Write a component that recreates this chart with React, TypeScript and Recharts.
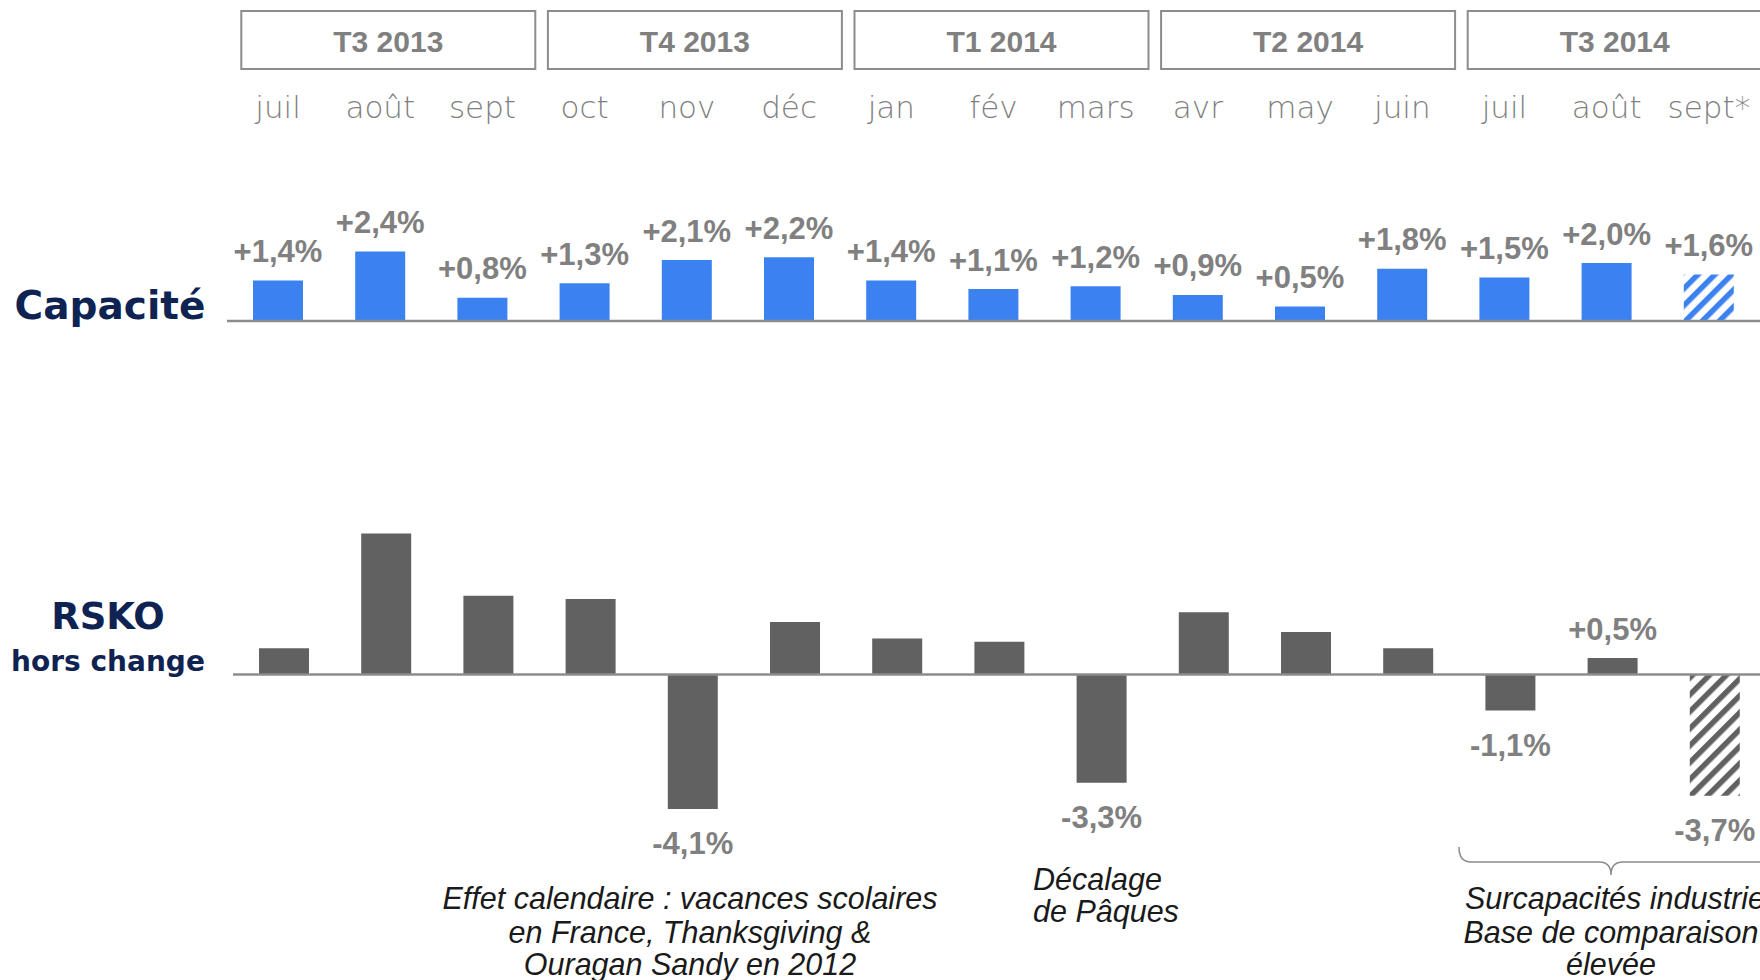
import React from 'react';
import { BarChart, Bar, XAxis, YAxis, Cell, LabelList, ReferenceLine } from 'recharts';

// Monthly values
const months = ['juil', 'août', 'sept', 'oct', 'nov', 'déc', 'jan', 'fév', 'mars', 'avr', 'may', 'juin', 'juil', 'août', 'sept*'];
const quarters = ['T3 2013', 'T4 2013', 'T1 2014', 'T2 2014', 'T3 2014'];
const capacity = [1.4, 2.4, 0.8, 1.3, 2.1, 2.2, 1.4, 1.1, 1.2, 0.9, 0.5, 1.8, 1.5, 2.0, 1.6];
const rsko = [0.8, 4.3, 2.4, 2.3, -4.1, 1.6, 1.1, 1.0, -3.3, 1.9, 1.3, 0.8, -1.1, 0.5, -3.7];
const rskoLabelled = [4, 8, 12, 13, 14];
const estimated = [14];

const BLUE = '#3b82f0';
const BAR_GRAY = '#616161';
const LABEL_GRAY = '#808080';
const AXIS_GRAY = '#8c8c8c';
const NAVY = '#0f2352';
const LABEL_FONT = '"Liberation Sans", Arial, sans-serif';
const TITLE_FONT = '"DejaVu Sans", sans-serif';

const fmt = (v: number) => `${v > 0 ? '+' : ''}${v.toFixed(1).replace('.', ',')}%`;

const data = months.map((m, i) => ({
  idx: i,
  capacity: capacity[i],
  rsko: rsko[i],
  capLbl: fmt(capacity[i]),
  rskoLbl: rskoLabelled.includes(i) ? fmt(rsko[i]) : '',
}));

const MonthTick = (props: any) => {
  const { x, payload } = props;
  const i = Number(payload.value);
  return (
    <g>
      {i % 3 === 1 && (
        <g>
          <rect x={x + 8 - 147} y={11} width={294} height={58} fill="#fff" stroke={AXIS_GRAY} strokeWidth={2} />
          <text x={x + 8} y={41} textAnchor="middle" dominantBaseline="central"
            fontFamily={LABEL_FONT} fontWeight={700} fontSize={30} fill={LABEL_GRAY}>
            {quarters[(i - 1) / 3]}
          </text>
        </g>
      )}
      <text x={x} y={107} textAnchor="middle" dominantBaseline="central"
        fontFamily={TITLE_FONT} fontWeight={200} fontSize={31} fill="#808080">
        {months[i]}
      </text>
    </g>
  );
};

const ValueLabel = (props: any) => {
  const { x, y, width, height, value } = props;
  if (!value) return null;
  const top = Math.min(y, y + height);
  const bottom = Math.max(y, y + height);
  const neg = String(value).startsWith('-');
  return (
    <text x={x + width / 2} y={neg ? bottom + 35 : top - 29} textAnchor="middle" dominantBaseline="central"
      fontFamily={LABEL_FONT} fontWeight={700} fontSize={31} fill={LABEL_GRAY}>
      {value}
    </text>
  );
};

const Hatch = ({ id, color }: { id: string; color: string }) => (
  <pattern id={id} patternUnits="userSpaceOnUse" width={12} height={12} patternTransform="rotate(45)">
    <rect x={0} y={0} width={12} height={12} fill="#fff" />
    <rect x={0} y={0} width={5.5} height={12} fill={color} />
  </pattern>
);

export default function App() {
  return (
    <div style={{ position: 'absolute', left: 0, top: 0, width: 1760, height: 980, overflow: 'hidden', background: '#fff' }}>
      {/* Capacité */}
      <div style={{ position: 'absolute', left: 0, top: 0 }}>
        <BarChart width={1760} height={340} data={data} margin={{ top: 70, right: 0, left: 227, bottom: 19 }}>
          <defs>
            <Hatch id="hatchBlue" color={BLUE} />
          </defs>
          <XAxis dataKey="idx" orientation="top" height={164} axisLine={false} tickLine={false}
            interval={0} tick={<MonthTick />} />
          <YAxis hide domain={[0, 3]} />
          <ReferenceLine y={0} stroke={AXIS_GRAY} strokeWidth={2.5} />
          <Bar dataKey="capacity" barSize={50} fill={BLUE} isAnimationActive={false}>
            {data.map((d) => (
              <Cell key={d.idx} fill={estimated.includes(d.idx) ? 'url(#hatchBlue)' : BLUE} />
            ))}
            <LabelList dataKey="capLbl" content={<ValueLabel />} />
          </Bar>
        </BarChart>
      </div>

      {/* RSKO hors change */}
      <div style={{ position: 'absolute', left: 6, top: 440 }}>
        <BarChart width={1760} height={540} data={data} margin={{ top: 87, right: 0, left: 227, bottom: 158 }}>
          <defs>
            <Hatch id="hatchGray" color={BAR_GRAY} />
          </defs>
          <XAxis dataKey="idx" hide />
          <YAxis hide domain={[-4.5, 4.5]} />
          <Bar dataKey="rsko" barSize={50} fill={BAR_GRAY} isAnimationActive={false}>
            {data.map((d) => (
              <Cell key={d.idx} fill={estimated.includes(d.idx) ? 'url(#hatchGray)' : BAR_GRAY} />
            ))}
            <LabelList dataKey="rskoLbl" content={<ValueLabel />} />
          </Bar>
          <ReferenceLine y={0} stroke={AXIS_GRAY} strokeWidth={2.5} />
        </BarChart>
      </div>

      {/* Titles and notes */}
      <svg width={1760} height={980} style={{ position: 'absolute', left: 0, top: 0, pointerEvents: 'none' }}>
        <g fontFamily={TITLE_FONT} fontWeight={700} fill={NAVY} textAnchor="middle">
          <text x={110} y={305} fontSize={39} dominantBaseline="central">Capacité</text>
          <text x={108} y={616} fontSize={37} dominantBaseline="central">RSKO</text>
          <text x={108} y={661} fontSize={28} dominantBaseline="central">hors change</text>
        </g>
        <g fontFamily={LABEL_FONT} fontStyle="italic" fontSize={30.5} fill="#1a1a1a" dominantBaseline="central">
          <text x={690} y={898} textAnchor="middle">Effet calendaire : vacances scolaires</text>
          <text x={690} y={932} textAnchor="middle">en France, Thanksgiving &amp;</text>
          <text x={690} y={964} textAnchor="middle">Ouragan Sandy en 2012</text>
          <text x={1033} y={879}>Décalage</text>
          <text x={1033} y={911}>de Pâques</text>
          <text x={1465} y={898}>Surcapacités industrielles</text>
          <text x={1611} y={932} textAnchor="middle">Base de comparaison</text>
          <text x={1611} y={964} textAnchor="middle">élevée</text>
        </g>
        <path d="M1459,847 Q1459,862 1471,862 L1599,862 Q1611,862 1611,875 Q1611,862 1623,862 L1770,862"
          fill="none" stroke={AXIS_GRAY} strokeWidth={1.5} />
      </svg>
    </div>
  );
}
